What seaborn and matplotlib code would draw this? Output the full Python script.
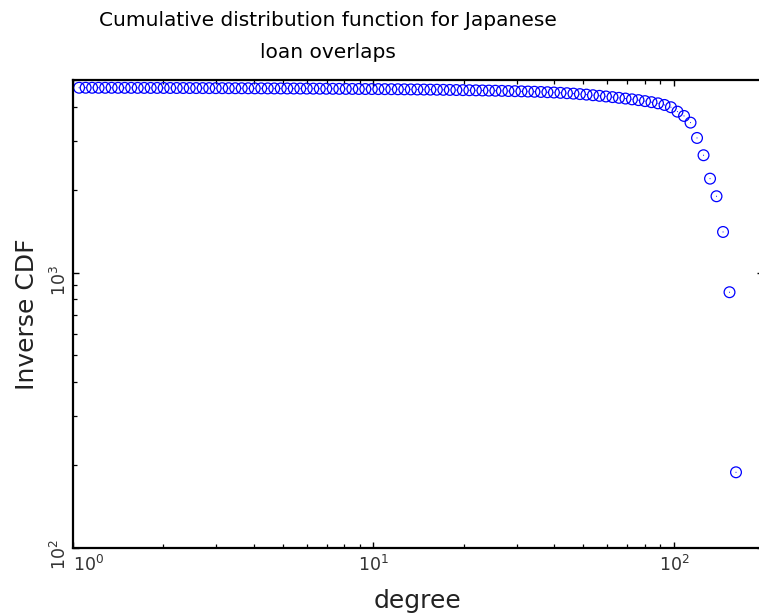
import numpy as np
import pandas as pd
import matplotlib
matplotlib.use("Agg")
import matplotlib.pyplot as plt
import seaborn as sns

# degree values (log-spaced bins)
degree = [
    1.051, 1.105, 1.161, 1.220, 1.283, 1.348, 1.417, 1.490, 1.566, 1.646,
    1.730, 1.818, 1.911, 2.008, 2.111, 2.219, 2.332, 2.451, 2.576, 2.708,
    2.846, 2.992, 3.144, 3.305, 3.474, 3.651, 3.838, 4.034, 4.240, 4.456,
    4.684, 4.923, 5.174, 5.439, 5.716, 6.008, 6.315, 6.638, 6.977, 7.333,
    7.707, 8.101, 8.515, 8.950, 9.407, 9.887, 10.39, 10.92, 11.48, 12.07,
    12.68, 13.33, 14.01, 14.73, 15.48, 16.27, 17.10, 17.97, 18.89, 19.86,
    20.87, 21.94, 23.06, 24.24, 25.47, 26.77, 28.14, 29.58, 31.09, 32.68,
    34.35, 36.10, 37.94, 39.88, 41.92, 44.06, 46.31, 48.67, 51.16, 53.77,
    56.52, 59.40, 62.44, 65.62, 68.97, 72.50, 76.20, 80.09, 84.18, 88.48,
    93.0, 97.7, 102.7, 108.0, 113.5, 119.3, 125.4, 131.8, 138.5, 145.6,
    153.0, 160.8,
]

# inverse CDF (count of nodes with degree >= d)
inv_cdf = [
    4703, 4703, 4702, 4702, 4701, 4701, 4700, 4699, 4699, 4698,
    4697, 4696, 4696, 4695, 4694, 4693, 4692, 4691, 4690, 4689,
    4688, 4687, 4686, 4685, 4684, 4683, 4682, 4680, 4679, 4677,
    4676, 4675, 4674, 4673, 4671, 4670, 4668, 4666, 4664, 4662,
    4660, 4658, 4657, 4655, 4653, 4652, 4650, 4648, 4646, 4644,
    4641, 4638, 4635, 4632, 4629, 4626, 4622, 4618, 4614, 4610,
    4606, 4602, 4597, 4592, 4587, 4582, 4576, 4570, 4563, 4556,
    4548, 4540, 4530, 4519, 4507, 4493, 4477, 4459, 4440, 4418,
    4395, 4372, 4348, 4322, 4296, 4268, 4240, 4205, 4168, 4128,
    4072, 3995, 3850, 3714, 3512, 3089, 2673, 2197, 1896, 1406,
    849, 188,
]

df = pd.DataFrame({"degree": degree, "inv_cdf": inv_cdf})

sns.set_theme(style="ticks")
plt.rcParams["font.family"] = ["DejaVu Sans"]

fig = plt.figure(figsize=(7.59, 6.16), dpi=100)
# right spine sits just past the image edge, as in the original crop
ax = fig.add_axes([0.09565, 0.1109, 0.9096, 0.7593])

# open circles with a tiny centre dot
sns.scatterplot(data=df, x="degree", y="inv_cdf", ax=ax, marker="o", s=60,
                facecolor="none", edgecolor="#0000ff", linewidth=0.9, legend=False)
sns.scatterplot(data=df, x="degree", y="inv_cdf", ax=ax, marker="o", s=0.6,
                color="#0000ff", edgecolor="none", legend=False)

ax.set_xscale("log")
ax.set_yscale("log")
ax.set_xlim(1, 197.7)
ax.set_ylim(100, 5020)

for side in ["left", "right", "top", "bottom"]:
    ax.spines[side].set_linewidth(1.6)
    ax.spines[side].set_color("black")

ax.tick_params(which="both", direction="in", top=True, right=True,
               colors="black", labelcolor="#333333", labelsize=12.5)
ax.tick_params(which="major", length=4.3, width=1.0, pad=5)
ax.tick_params(which="minor", length=2.9, width=0.9)
ax.tick_params(axis="y", which="major", labelrotation=90, pad=2)

# the 10^0 label is nudged right of its tick so it clears 10^2
fig.canvas.draw()
for lab in ax.get_xticklabels():
    if lab.get_position()[0] == 1:
        lab.set_horizontalalignment("left")

ax.set_xlabel("degree", fontsize=18, color="#222222", labelpad=10)
ax.set_ylabel("Inverse CDF", fontsize=18, color="#222222", labelpad=8)

fig.text(0.432, 0.967, "Cumulative distribution function for Japanese",
         ha="center", va="center", fontsize=14.5, color="black")
fig.text(0.432, 0.915, "loan overlaps",
         ha="center", va="center", fontsize=14.5, color="black")

fig.savefig("out.png", dpi=100)
